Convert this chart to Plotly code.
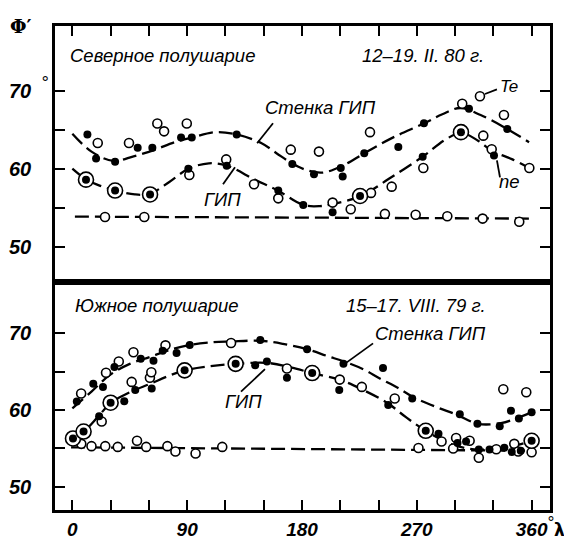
import plotly.graph_objects as go

# ---------------- data: Northern hemisphere (upper panel) ----------------
n_wall_lon = [0, 15, 32, 48, 64, 80, 94, 112, 129, 148, 160, 172, 184, 196, 212, 229, 250, 276, 290, 304, 320, 341, 358]
n_wall_lat = [64.5, 62.2, 61.0, 61.6, 62.4, 63.4, 64.0, 64.7, 64.4, 63.3, 62.0, 60.7, 59.8, 59.5, 60.4, 62.0, 63.9, 65.85, 67.0, 67.8, 66.9, 65.1, 63.4]

n_gip_lon = [0, 11, 22, 34, 49, 61, 76, 91, 107, 121, 143, 161, 181, 194, 205, 226, 250, 275, 292, 305, 318, 329, 345, 358]
n_gip_lat = [60.0, 58.6, 57.8, 57.2, 56.7, 56.8, 58.3, 60.0, 60.7, 60.4, 58.6, 57.2, 55.35, 55.2, 55.5, 56.5, 58.9, 61.6, 63.7, 64.6, 63.6, 62.3, 61.2, 60.1]

n_flat_lon = [2, 361]
n_flat_lat = [53.85, 53.6]

n_te_lon = [19.9, 44.4, 66.6, 71.9, 89.7, 91.7, 120.6, 142.4, 161.4, 171.2, 193.3, 204, 218.2, 233.3, 234.1, 250.3, 275.1, 305.6, 319.5, 322.1, 328.7, 338.3, 358.2,
            25.6, 56.4, 245, 269.1, 293.9, 321.6, 350.3]
n_te_lat = [63.3, 63.3, 65.8, 64.8, 65.8, 59.2, 61.2, 58.0, 56.2, 62.45, 62.2, 55.65, 54.8, 64.7, 56.9, 57.7, 60.1, 68.35, 69.3, 64.25, 62.5, 66.9, 60.1,
            53.8, 53.8, 54.2, 54.1, 53.9, 53.6, 53.2]

n_ne_lon = [11.8, 18.6, 33.5, 51.2, 62.7, 85.2, 93.6, 128.8, 172.4, 189.4, 210.4, 211.9, 228.8, 255.5, 275.6, 310.9, 340.9,
            90.9, 121, 161.4, 181, 204, 274.6, 330.5]
n_ne_lat = [64.4, 61.3, 60.9, 62.7, 62.7, 64.0, 64.0, 64.4, 60.6, 59.3, 60.1, 59.0, 62.0, 62.8, 65.85, 67.7, 65.1,
            60.0, 60.4, 57.2, 55.35, 54.4, 61.55, 61.7]

n_both_lon = [10.7, 33.5, 60.9, 225.5, 304.6]
n_both_lat = [58.6, 57.2, 56.7, 56.5, 64.7]

# ---------------- data: Southern hemisphere (lower panel) ----------------
s_wall_lon = [0, 15, 29, 45, 61, 76, 92, 110, 124, 147, 165, 184, 200, 213, 228, 241, 255, 267, 285, 301, 318, 336, 348, 360]
s_wall_lat = [60.2, 62.4, 64.5, 66.0, 66.9, 67.8, 68.45, 68.8, 68.9, 69.0, 68.6, 67.9, 67.0, 66.3, 65.3, 64.1, 62.9, 61.7, 60.4, 59.4, 58.2, 58.3, 58.9, 59.7]

s_gip_lon = [0, 9.6, 20, 30, 45, 61, 75, 88, 108, 128, 154, 172, 188, 210, 228, 247, 262, 277, 298, 318, 338, 350, 360]
s_gip_lat = [56.3, 57.3, 59.1, 60.9, 62.3, 63.4, 64.4, 65.15, 65.7, 66.0, 66.1, 65.5, 64.8, 63.9, 62.6, 60.9, 59.0, 57.3, 55.5, 54.85, 55.1, 55.5, 56.0]

s_flat_lon = [-1, 361]
s_flat_lat = [55.15, 54.7]

s_te_lon = [6.9, 26.4, 36.4, 47.9, 73, 124.4, 337.8, 355.8,
            23, 46.5, 60.8, 61.9, 168.2, 209.6, 226.9, 252.7, 289.4, 300.8, 311.4, 346.4,
            7, 15, 25.8, 35.6, 50.7, 57.9, 74.5, 80.8, 96.6, 117.5, 271.3, 298.5, 318.6, 332.3, 349.5, 360]
s_te_lat = [62.15, 64.85, 66.3, 67.5, 68.4, 68.7, 62.7, 62.3,
            58.5, 63.65, 64.2, 64.9, 65.4, 63.95, 63.0, 61.5, 55.9, 56.35, 56.0, 55.6,
            55.6, 55.3, 55.3, 55.2, 56.0, 55.2, 55.3, 54.6, 54.35, 55.2, 55.05, 55.0, 53.8, 54.9, 54.6, 54.5]

s_ne_lon = [3.5, 16.4, 24, 33, 53.6, 63.6, 70.8, 81.7, 92, 147.3, 184, 212.5, 243.5, 266.4, 303.7, 317.5, 335, 343.8, 350, 360,
            21, 40.7, 49.3, 62.2, 143.3, 152.5, 168.2, 209.2, 247.6, 287, 301.9, 308.6, 318.6, 327, 338.6, 344.4, 351.5]
s_ne_lat = [61.1, 63.4, 63.0, 65.6, 66.65, 66.4, 67.7, 67.4, 68.45, 69.1, 67.9, 66.0, 65.45, 61.5, 59.45, 58.2, 57.9, 59.9, 58.9, 59.7,
            59.2, 61.15, 62.6, 62.8, 65.8, 66.3, 64.2, 62.6, 60.65, 56.9, 55.7, 55.9, 54.85, 54.85, 55.1, 54.55, 54.7]

s_both_lon = [0.5, 8.8, 30, 88, 128, 188, 277, 360]
s_both_lat = [56.3, 57.2, 60.95, 65.15, 66.0, 64.8, 57.3, 56.0]

x_tick_vals = list(range(0, 361, 30))
x_tick_text = ["0", "", "", "90", "", "", "180", "", "", "270", "", "", "360"]
y_tick_vals = [50, 55, 60, 65, 70]
y_tick_text = ["50", "", "60", "", "70"]

FONT = "Liberation Sans, Arial, sans-serif"
DASH = "14px,6px"

fig = go.Figure()


def add_panel(xa, ya, curves, te, ne, both):
    for lon, lat in curves:
        fig.add_trace(go.Scatter(x=lon, y=lat, mode="lines", xaxis=xa, yaxis=ya,
                                 line=dict(color="black", width=2.3, dash=DASH, shape="spline", smoothing=1.0),
                                 hoverinfo="skip", showlegend=False))
    fig.add_trace(go.Scatter(x=te[0], y=te[1], mode="markers", xaxis=xa, yaxis=ya,
                             marker=dict(symbol="circle", size=9, color="white", line=dict(color="black", width=1.6)),
                             showlegend=False))
    fig.add_trace(go.Scatter(x=ne[0], y=ne[1], mode="markers", xaxis=xa, yaxis=ya,
                             marker=dict(symbol="circle", size=8, color="black"), showlegend=False))
    fig.add_trace(go.Scatter(x=both[0], y=both[1], mode="markers", xaxis=xa, yaxis=ya,
                             marker=dict(symbol="circle", size=15, color="white", line=dict(color="black", width=1.6)),
                             showlegend=False))
    fig.add_trace(go.Scatter(x=both[0], y=both[1], mode="markers", xaxis=xa, yaxis=ya,
                             marker=dict(symbol="circle", size=8, color="black"), showlegend=False))


add_panel("x2", "y2",
          [(n_wall_lon, n_wall_lat), (n_gip_lon, n_gip_lat), (n_flat_lon, n_flat_lat)],
          (n_te_lon, n_te_lat), (n_ne_lon, n_ne_lat), (n_both_lon, n_both_lat))
add_panel("x", "y",
          [(s_wall_lon, s_wall_lat), (s_gip_lon, s_gip_lat), (s_flat_lon, s_flat_lat)],
          (s_te_lon, s_te_lat), (s_ne_lon, s_ne_lat), (s_both_lon, s_both_lat))

tickfont = dict(family=FONT, size=20, color="black", style="italic", weight="bold")
xtickfont = dict(family=FONT, size=19, color="black", style="italic", weight="bold")
ax_common = dict(showline=True, linewidth=2.5, linecolor="black", mirror=True, showgrid=False, zeroline=False,
                 ticks="inside", ticklen=10, tickwidth=2, tickcolor="black", automargin=False)

# the page body adds an 8px offset, so the figure is sized/margined to compensate
fig.update_layout(
    width=564, height=531,
    margin=dict(l=47, r=22, t=18, b=29, autoexpand=False),
    paper_bgcolor="white", plot_bgcolor="white",
    xaxis=dict(domain=[0, 1], range=[-13.6, 374.4], anchor="y", tickvals=x_tick_vals, ticktext=x_tick_text,
               tickfont=xtickfont, ticklabelstandoff=0, **ax_common),
    xaxis2=dict(domain=[0, 1], range=[-13.6, 374.4], anchor="y2", side="top", matches="x",
                tickvals=x_tick_vals, showticklabels=False, **ax_common),
    yaxis=dict(domain=[0, 0.4705], range=[47.0, 76.6], anchor="x", tickvals=y_tick_vals, ticktext=y_tick_text,
               tickfont=tickfont, ticklabelstandoff=17, **{**ax_common, "mirror": "ticks"}),
    yaxis2=dict(domain=[0.4705, 1], range=[45.42, 78.33], anchor="x2", tickvals=y_tick_vals, ticktext=y_tick_text,
                tickfont=tickfont, ticklabelstandoff=17, **{**ax_common, "mirror": "ticks"}),
)

lab = dict(family=FONT, size=18.5, color="black", style="italic")
anns = [
    dict(text="Северное полушарие", x=-3.4, y=74.6, xref="x2", yref="y2", xanchor="left", font=lab),
    dict(text="12–19. II. 80 г.", x=324.2, y=74.6, xref="x2", yref="y2", xanchor="right", font=lab),
    dict(text="Стенка ГИП", x=149.4, y=67.9, xref="x2", yref="y2", xanchor="left", font=lab),
    dict(text="ГИП", x=101.6, y=56.06, xref="x2", yref="y2", xanchor="left", font=lab),
    dict(text="Te", x=333.6, y=70.5, xref="x2", yref="y2", xanchor="left", font={**lab, "size": 17}),
    dict(text="ne", x=332.8, y=58.3, xref="x2", yref="y2", xanchor="left", font=lab),
    dict(text="Южное полушарие", x=0.5, y=73.6, xref="x", yref="y", xanchor="left", font=lab),
    dict(text="15–17. VIII. 79 г.", x=325.8, y=73.6, xref="x", yref="y", xanchor="right", font=lab),
    dict(text="Стенка ГИП", x=325.8, y=70.0, xref="x", yref="y", xanchor="right", font=lab),
    dict(text="ГИП", x=118.1, y=61.04, xref="x", yref="y", xanchor="left", font=lab),
    dict(text="<b>Φ′</b>", x=0, xshift=-34, y=1.0, xref="paper", yref="paper", xanchor="center", yanchor="middle",
         font=dict(family="DejaVu Serif", size=19, color="black")),
    dict(text="°", x=0, xshift=-11, y=71.0, xref="paper", yref="y2", xanchor="center", font={**lab, "size": 18}),
    dict(text="°", x=1, xshift=0, y=0, yshift=-12, xref="paper", yref="paper", xanchor="center", font={**lab, "size": 17}),
    dict(text="<b>λ</b>", x=1, xshift=9, y=0, yshift=-20, xref="paper", yref="paper", xanchor="center",
         font=dict(family="DejaVu Sans", size=17, color="black")),
]
for a in anns:
    a.setdefault("showarrow", False)
    a.setdefault("yanchor", "middle")
fig.update_layout(annotations=anns)

# pointer lines (data coordinates)
pointers = [
    ("x2", "y2", 157.3, 65.84, 144.8, 63.27),
    ("x2", "y2", 127.5, 60.18, 118.1, 58.0),
    ("x2", "y2", 323.4, 69.6, 332.8, 70.2),
    ("x2", "y2", 332.8, 61.08, 335.2, 58.9),
    ("x", "y", 235.7, 68.66, 214.0, 66.06),
    ("x", "y", 132.2, 62.38, 151.0, 65.3),
]
for xr, yr, x0, y0, x1, y1 in pointers:
    fig.add_shape(type="line", xref=xr, yref=yr, x0=x0, y0=y0, x1=x1, y1=y1,
                  line=dict(color="black", width=1.8))

fig.write_html("out.html")
